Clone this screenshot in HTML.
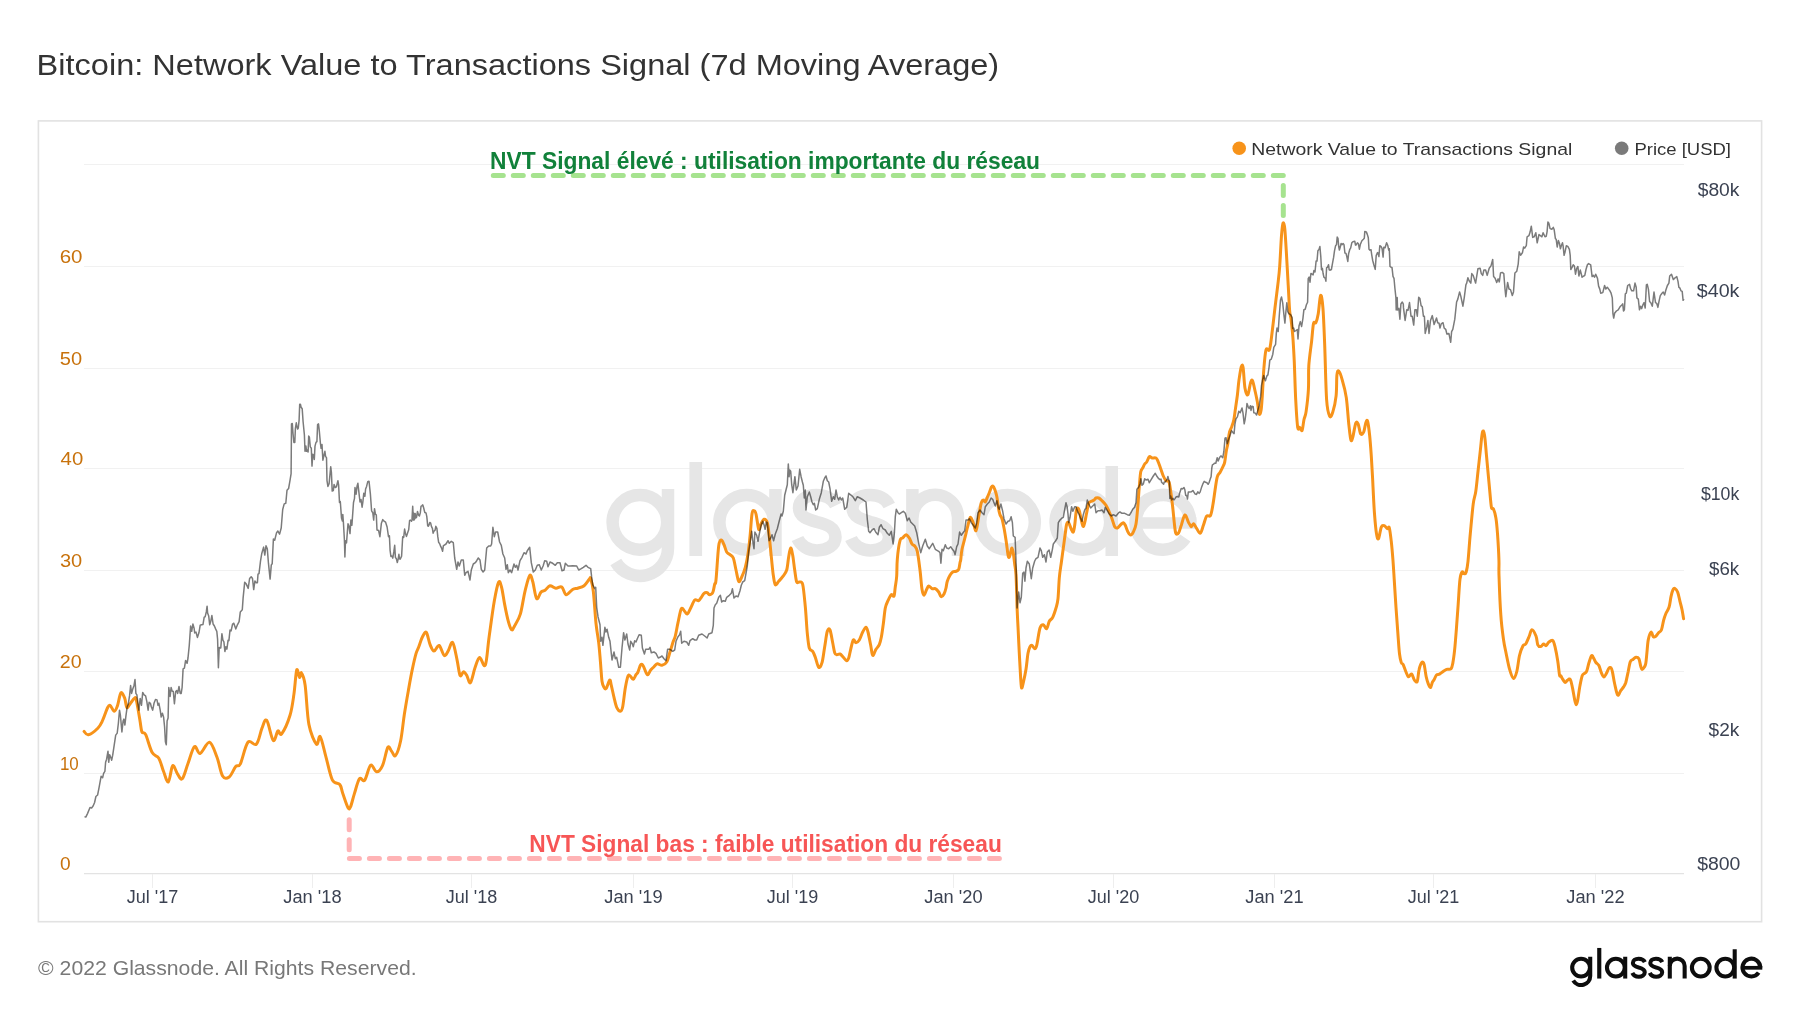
<!DOCTYPE html>
<html><head><meta charset="utf-8"><style>
html,body{margin:0;padding:0;background:#ffffff;width:1800px;height:1013px;overflow:hidden;position:relative}
svg text{font-family:"Liberation Sans",sans-serif}
</style></head><body>
<svg width="1800" height="1013" viewBox="0 0 1800 1013" style="position:absolute;left:0;top:0">
<text x="36.6" y="75" font-size="30" fill="#333333" textLength="962.6" lengthAdjust="spacingAndGlyphs">Bitcoin: Network Value to Transactions Signal (7d Moving Average)</text>
<rect x="38.4" y="120.9" width="1723.2" height="800.8" fill="#ffffff" stroke="#e2e2e2" stroke-width="1.6"/>
<line x1="84" x2="1684" y1="773.5" y2="773.5" stroke="#f1f1f1" stroke-width="1"/>
<line x1="84" x2="1684" y1="671.5" y2="671.5" stroke="#f1f1f1" stroke-width="1"/>
<line x1="84" x2="1684" y1="570.5" y2="570.5" stroke="#f1f1f1" stroke-width="1"/>
<line x1="84" x2="1684" y1="468.5" y2="468.5" stroke="#f1f1f1" stroke-width="1"/>
<line x1="84" x2="1684" y1="368.5" y2="368.5" stroke="#f1f1f1" stroke-width="1"/>
<line x1="84" x2="1684" y1="266.5" y2="266.5" stroke="#f1f1f1" stroke-width="1"/>
<line x1="84" x2="1684" y1="164.5" y2="164.5" stroke="#f1f1f1" stroke-width="1"/>
<g fill="none" stroke="#e6e6e6" stroke-width="12.5">
<circle cx="639.9" cy="522.35" r="27.3"/>
<path d="M668,489 L668,548 A28,28 0 0 1 615.8,562"/>
<path d="M695.75,462 L695.75,556" stroke-width="12.7"/>
<circle cx="746.7" cy="522.35" r="27.3"/>
<path d="M775.45,489 L775.45,556"/>
<path d="M835.8,505.5 C832.5,498.5 825,495 816.5,495 C806,495 799,500 799,508 C799,517 808,519.5 817,522 C827,524.5 835.5,527.5 835.5,537 C835.5,545.5 827,550.5 817,550.5 C808,550.5 800.5,545.5 797.5,538.5"/>
<path d="M835.8,505.5 C832.5,498.5 825,495 816.5,495 C806,495 799,500 799,508 C799,517 808,519.5 817,522 C827,524.5 835.5,527.5 835.5,537 C835.5,545.5 827,550.5 817,550.5 C808,550.5 800.5,545.5 797.5,538.5" transform="translate(53.5 0)"/>
<path d="M912.4,489 L912.4,556"/>
<path d="M912.4,517.6 A22.8,22.8 0 0 1 958,517.6 L958,556"/>
<circle cx="1007.55" cy="522.35" r="27.3"/>
<circle cx="1082.85" cy="522.35" r="27.3"/>
<path d="M1111.75,466 L1111.75,556"/>
<path d="M1190.25,522.35 A27.3,27.3 0 1 0 1185.31,538.01"/>
<path d="M1135.65,522.95 L1196.50,522.95" stroke-width="11.5"/>
</g>
<line x1="84" x2="1684" y1="873.6" y2="873.6" stroke="#e3e3e3" stroke-width="1.2"/>
<line x1="152.5" x2="152.5" y1="874" y2="888" stroke="#eeeeee" stroke-width="1"/>
<text x="152.5" y="903" font-size="17.5" fill="#3b4252" text-anchor="middle" textLength="51.5" lengthAdjust="spacingAndGlyphs">Jul '17</text>
<line x1="312.5" x2="312.5" y1="874" y2="888" stroke="#eeeeee" stroke-width="1"/>
<text x="312.5" y="903" font-size="17.5" fill="#3b4252" text-anchor="middle" textLength="58.3" lengthAdjust="spacingAndGlyphs">Jan '18</text>
<line x1="471.5" x2="471.5" y1="874" y2="888" stroke="#eeeeee" stroke-width="1"/>
<text x="471.5" y="903" font-size="17.5" fill="#3b4252" text-anchor="middle" textLength="51.5" lengthAdjust="spacingAndGlyphs">Jul '18</text>
<line x1="633.5" x2="633.5" y1="874" y2="888" stroke="#eeeeee" stroke-width="1"/>
<text x="633.5" y="903" font-size="17.5" fill="#3b4252" text-anchor="middle" textLength="58.3" lengthAdjust="spacingAndGlyphs">Jan '19</text>
<line x1="792.5" x2="792.5" y1="874" y2="888" stroke="#eeeeee" stroke-width="1"/>
<text x="792.5" y="903" font-size="17.5" fill="#3b4252" text-anchor="middle" textLength="51.5" lengthAdjust="spacingAndGlyphs">Jul '19</text>
<line x1="953.5" x2="953.5" y1="874" y2="888" stroke="#eeeeee" stroke-width="1"/>
<text x="953.5" y="903" font-size="17.5" fill="#3b4252" text-anchor="middle" textLength="58.3" lengthAdjust="spacingAndGlyphs">Jan '20</text>
<line x1="1113.5" x2="1113.5" y1="874" y2="888" stroke="#eeeeee" stroke-width="1"/>
<text x="1113.5" y="903" font-size="17.5" fill="#3b4252" text-anchor="middle" textLength="51.5" lengthAdjust="spacingAndGlyphs">Jul '20</text>
<line x1="1274.5" x2="1274.5" y1="874" y2="888" stroke="#eeeeee" stroke-width="1"/>
<text x="1274.5" y="903" font-size="17.5" fill="#3b4252" text-anchor="middle" textLength="58.3" lengthAdjust="spacingAndGlyphs">Jan '21</text>
<line x1="1433.5" x2="1433.5" y1="874" y2="888" stroke="#eeeeee" stroke-width="1"/>
<text x="1433.5" y="903" font-size="17.5" fill="#3b4252" text-anchor="middle" textLength="51.5" lengthAdjust="spacingAndGlyphs">Jul '21</text>
<line x1="1595.5" x2="1595.5" y1="874" y2="888" stroke="#eeeeee" stroke-width="1"/>
<text x="1595.5" y="903" font-size="17.5" fill="#3b4252" text-anchor="middle" textLength="58.3" lengthAdjust="spacingAndGlyphs">Jan '22</text>
<text x="59.91" y="870.1" font-size="18.4" fill="#c8720c" textLength="10.63" lengthAdjust="spacingAndGlyphs">0</text>
<text x="59.88" y="770.1" font-size="18.4" fill="#c8720c" textLength="18.85" lengthAdjust="spacingAndGlyphs">10</text>
<text x="59.88" y="668.1" font-size="18.4" fill="#c8720c" textLength="21.82" lengthAdjust="spacingAndGlyphs">20</text>
<text x="59.91" y="567.1" font-size="18.4" fill="#c8720c" textLength="22.3" lengthAdjust="spacingAndGlyphs">30</text>
<text x="60.6" y="465.1" font-size="18.4" fill="#c8720c" textLength="22.62" lengthAdjust="spacingAndGlyphs">40</text>
<text x="59.81" y="365.1" font-size="18.4" fill="#c8720c" textLength="22.3" lengthAdjust="spacingAndGlyphs">50</text>
<text x="59.68" y="263.1" font-size="18.4" fill="#c8720c" textLength="22.84" lengthAdjust="spacingAndGlyphs">60</text>
<text x="1697.7" y="195.5" font-size="18" fill="#3b4252" textLength="41.75" lengthAdjust="spacingAndGlyphs">$80k</text>
<text x="1696.8" y="297.0" font-size="18" fill="#3b4252" textLength="42.65" lengthAdjust="spacingAndGlyphs">$40k</text>
<text x="1700.9" y="500.0" font-size="18" fill="#3b4252" textLength="38.35" lengthAdjust="spacingAndGlyphs">$10k</text>
<text x="1709.1" y="574.8" font-size="18" fill="#3b4252" textLength="30.13" lengthAdjust="spacingAndGlyphs">$6k</text>
<text x="1708.6" y="735.7" font-size="18" fill="#3b4252" textLength="30.73" lengthAdjust="spacingAndGlyphs">$2k</text>
<text x="1697.2" y="869.9" font-size="18" fill="#3b4252" textLength="43.23" lengthAdjust="spacingAndGlyphs">$800</text>
<path d="M84.1,731.4 C84.8,732.0 86.1,735.2 88.4,734.7 C90.7,734.2 95.5,730.5 97.8,728.2 C100.1,725.9 100.9,724.0 102.5,720.7 C104.1,717.4 106.0,711.1 107.2,708.5 C108.5,705.9 108.8,704.8 110.0,705.3 C111.2,705.8 113.0,711.2 114.3,711.3 C115.5,711.4 116.4,708.8 117.5,705.7 C118.6,702.6 119.7,694.1 120.9,692.9 C122.1,691.6 123.7,695.8 124.7,698.2 C125.7,700.6 125.9,706.7 126.9,707.5 C127.9,708.3 129.4,704.4 130.7,702.9 C131.9,701.4 133.5,698.7 134.4,698.2 C135.3,697.7 135.4,696.2 136.3,700.0 C137.2,703.8 139.1,715.4 140.0,720.7 C140.9,726.0 141.0,729.6 141.9,731.9 C142.8,734.2 144.0,731.2 145.7,734.7 C147.4,738.2 150.0,748.7 152.2,752.6 C154.4,756.5 156.9,755.1 158.8,758.2 C160.7,761.3 161.9,767.3 163.5,771.3 C165.1,775.3 166.8,782.6 168.2,782.0 C169.6,781.4 171.0,770.2 171.9,767.6 C172.8,765.0 172.9,765.0 173.8,766.1 C174.8,767.2 176.2,772.0 177.6,774.1 C179.0,776.2 180.6,780.5 182.3,778.8 C184.0,777.1 185.9,769.2 187.9,763.8 C189.9,758.4 192.4,748.3 194.4,746.6 C196.4,744.9 197.6,754.2 200.1,753.5 C202.6,752.8 206.7,741.7 209.5,742.3 C212.3,742.9 214.8,751.7 217.0,757.3 C219.2,762.9 220.6,772.7 222.6,776.0 C224.6,779.3 227.0,778.6 229.2,777.0 C231.4,775.4 233.8,768.8 235.7,766.6 C237.6,764.4 238.4,767.8 240.4,763.8 C242.4,759.8 245.2,745.6 247.9,742.3 C250.6,739.0 254.0,746.5 256.4,744.1 C258.8,741.8 260.3,732.2 262.0,728.2 C263.7,724.2 264.8,718.3 266.7,720.3 C268.6,722.3 271.3,738.6 273.2,740.4 C275.1,742.2 276.5,732.1 277.9,731.0 C279.3,729.9 279.7,736.5 281.7,733.8 C283.7,731.1 288.1,721.6 290.1,715.0 C292.1,708.4 292.8,701.9 293.9,694.4 C295.0,686.9 295.8,672.8 296.7,670.0 C297.6,667.2 298.7,677.0 299.5,677.5 C300.3,678.0 300.5,671.5 301.4,672.8 C302.3,674.0 303.9,676.4 305.1,685.0 C306.4,693.6 307.0,714.5 308.9,724.4 C310.8,734.2 314.5,742.1 316.4,744.1 C318.3,746.1 318.6,734.6 320.2,736.6 C321.8,738.6 323.8,749.1 325.8,756.3 C327.8,763.5 330.0,775.1 332.3,779.8 C334.6,784.5 338.1,782.2 339.8,784.5 C341.6,786.8 341.4,789.7 342.8,793.6 C344.2,797.5 346.7,805.5 348.0,807.7 C349.3,809.9 349.4,809.2 350.5,806.9 C351.6,804.5 352.9,798.3 354.4,793.6 C355.9,788.9 357.8,780.9 359.5,778.7 C361.2,776.5 362.8,782.4 364.7,780.2 C366.6,778.0 368.6,766.7 370.6,765.3 C372.6,763.9 374.7,771.8 376.7,771.8 C378.7,771.8 380.8,769.4 382.6,765.3 C384.5,761.2 386.3,749.8 387.8,747.4 C389.3,745.0 390.3,749.8 391.6,751.2 C392.9,752.6 394.0,757.3 395.5,755.6 C397.0,753.9 399.1,747.9 400.6,741.0 C402.1,734.1 403.1,722.4 404.4,714.0 C405.7,705.6 407.0,698.2 408.3,690.9 C409.6,683.6 410.8,676.6 412.1,670.4 C413.4,664.2 414.9,657.6 416.0,653.7 C417.1,649.9 417.5,650.1 418.6,647.3 C419.7,644.5 421.1,639.5 422.4,637.0 C423.7,634.5 425.0,631.1 426.3,632.4 C427.6,633.7 428.8,641.6 430.1,644.7 C431.4,647.8 432.5,651.0 434.0,651.1 C435.5,651.2 437.4,644.8 439.1,645.5 C440.8,646.2 442.7,654.6 444.2,655.5 C445.7,656.4 446.7,653.2 448.1,651.1 C449.5,649.0 451.2,641.1 452.7,642.6 C454.2,644.1 455.9,654.6 457.1,660.1 C458.3,665.6 459.0,673.6 460.1,675.5 C461.2,677.4 462.4,671.7 463.5,671.7 C464.6,671.7 465.7,673.7 466.8,675.5 C467.9,677.3 469.0,684.0 470.4,682.7 C471.8,681.4 473.5,672.0 475.0,667.8 C476.5,663.6 477.9,657.9 479.6,657.5 C481.3,657.1 483.7,668.6 485.3,665.2 C486.9,661.8 487.6,647.7 489.1,637.0 C490.6,626.3 492.7,610.2 494.3,601.1 C495.9,592.0 497.4,584.6 498.6,582.3 C499.8,579.9 500.5,583.5 501.5,587.0 C502.5,590.5 503.4,597.8 504.5,603.6 C505.6,609.4 507.2,617.2 508.4,621.6 C509.6,626.0 510.6,629.1 511.7,629.8 C512.8,630.4 513.3,628.1 514.8,625.5 C516.2,622.9 518.7,619.7 520.4,613.9 C522.1,608.1 523.5,597.2 525.1,590.8 C526.7,584.4 528.4,576.9 529.7,575.4 C531.0,573.9 531.6,577.9 532.8,581.8 C533.9,585.6 535.2,596.8 536.6,598.5 C538.0,600.2 539.6,593.5 541.0,592.1 C542.4,590.7 543.6,591.4 545.1,590.3 C546.6,589.2 548.2,586.1 550.0,585.7 C551.8,585.4 553.9,588.0 555.9,588.2 C557.9,588.4 560.1,585.9 561.8,587.0 C563.5,588.1 564.3,594.3 566.1,594.7 C567.9,595.1 570.7,590.6 572.6,589.5 C574.5,588.4 575.8,588.8 577.7,588.2 C579.6,587.6 582.2,587.2 584.1,585.7 C586.0,584.2 588.1,580.5 589.2,579.3 C590.3,578.1 590.0,576.7 590.7,578.7 C591.4,580.7 592.4,583.9 593.3,591.3 C594.2,598.7 595.1,614.7 596.0,623.3 C596.9,631.9 597.9,635.7 598.7,642.7 C599.5,649.7 600.2,658.9 600.7,665.3 C601.2,671.7 601.5,677.6 602.0,681.3 C602.5,685.0 603.3,686.1 604.0,687.3 C604.7,688.5 605.3,689.5 606.3,688.3 C607.2,687.1 608.9,680.5 609.7,680.0 C610.5,679.5 610.6,682.4 611.3,685.3 C612.0,688.2 613.1,693.6 614.0,697.3 C614.9,701.0 615.6,705.0 616.7,707.3 C617.8,709.6 619.4,711.4 620.4,711.3 C621.4,711.2 621.9,710.6 622.7,706.7 C623.5,702.8 624.4,693.1 625.3,688.0 C626.2,682.9 627.2,678.0 628.0,676.0 C628.8,674.0 629.1,675.2 630.0,675.7 C630.9,676.2 632.3,679.5 633.3,679.3 C634.3,679.1 635.2,675.9 636.0,674.7 C636.8,673.5 637.2,673.7 638.0,672.0 C638.8,670.3 639.8,665.7 640.7,664.7 C641.6,663.7 642.2,664.3 643.3,666.0 C644.4,667.7 646.1,674.0 647.3,674.7 C648.5,675.4 649.6,671.3 650.7,670.0 C651.8,668.7 652.9,667.8 654.0,666.7 C655.1,665.7 656.0,663.9 657.3,663.7 C658.6,663.5 660.4,665.6 662.0,665.3 C663.6,665.0 665.4,664.2 666.7,662.0 C668.0,659.8 668.9,655.5 670.0,652.0 C671.1,648.5 672.4,644.0 673.3,641.3 C674.2,638.6 674.5,639.1 675.3,636.0 C676.1,632.9 677.0,627.2 678.0,622.7 C679.0,618.2 680.2,610.6 681.3,608.7 C682.4,606.8 683.7,610.4 684.7,611.3 C685.7,612.2 686.3,614.5 687.3,614.0 C688.3,613.5 689.5,610.3 690.7,608.0 C691.9,605.7 693.4,601.2 694.7,600.0 C696.0,598.8 697.6,601.2 698.7,600.7 C699.8,600.2 700.4,598.5 701.3,597.3 C702.2,596.1 703.0,594.1 704.0,593.3 C705.0,592.5 706.4,592.5 707.3,592.7 C708.2,592.9 708.4,594.7 709.3,594.7 C710.2,594.7 711.8,594.5 712.7,592.7 C713.6,590.9 714.2,586.1 714.7,584.0 C715.2,581.9 715.3,586.3 716.0,580.0 C716.7,573.7 717.8,552.7 718.7,546.0 C719.6,539.3 720.4,540.2 721.3,540.0 C722.2,539.8 723.1,542.7 724.0,544.7 C724.9,546.7 725.7,550.3 726.7,552.0 C727.7,553.7 728.9,553.7 730.0,554.7 C731.1,555.7 732.3,555.5 733.3,558.0 C734.3,560.5 735.1,566.1 736.0,570.0 C736.9,573.9 737.8,580.0 738.7,581.3 C739.6,582.6 740.2,580.3 741.3,578.0 C742.4,575.7 744.2,571.3 745.3,567.3 C746.4,563.3 747.2,559.1 748.0,554.0 C748.8,548.9 749.3,543.4 750.0,536.7 C750.7,530.0 751.3,518.3 752.0,514.0 C752.7,509.7 753.3,510.7 754.0,510.7 C754.7,510.7 755.2,510.9 756.0,514.0 C756.8,517.1 757.9,527.5 758.7,529.3 C759.5,531.1 759.8,526.4 760.7,524.7 C761.6,523.0 762.9,519.6 764.0,519.3 C765.1,519.0 766.4,519.8 767.3,522.7 C768.2,525.6 768.6,531.0 769.3,536.7 C770.0,542.4 770.6,550.3 771.3,556.7 C772.0,563.1 772.6,570.6 773.3,575.3 C774.0,580.0 774.4,583.7 775.3,584.7 C776.2,585.7 777.5,582.6 778.7,581.3 C779.9,580.0 781.4,578.6 782.7,576.7 C784.0,574.8 785.7,573.3 786.7,570.0 C787.7,566.7 788.0,560.4 788.7,556.7 C789.4,553.0 790.0,548.2 790.7,548.0 C791.4,547.8 792.0,551.6 792.7,555.3 C793.4,559.0 794.0,565.5 794.7,570.0 C795.4,574.5 795.9,580.0 796.7,582.0 C797.5,584.0 798.3,581.6 799.3,582.0 C800.3,582.4 801.7,580.4 802.7,584.5 C803.7,588.6 804.5,598.6 805.3,606.7 C806.1,614.8 806.6,626.4 807.3,633.3 C808.0,640.2 808.4,645.0 809.3,648.0 C810.2,651.0 811.7,649.8 812.7,651.3 C813.7,652.8 814.3,654.6 815.3,657.3 C816.3,660.0 817.6,666.4 818.7,667.3 C819.8,668.2 821.0,666.1 822.0,662.7 C823.0,659.3 823.8,651.9 824.7,646.7 C825.6,641.5 826.4,634.1 827.3,631.3 C828.2,628.5 829.1,628.1 830.0,630.0 C830.9,631.9 831.9,638.9 832.7,642.7 C833.5,646.5 834.0,650.7 834.7,652.7 C835.4,654.7 835.8,654.5 836.7,654.7 C837.6,654.9 838.9,653.6 840.0,654.0 C841.1,654.4 842.2,656.2 843.3,657.3 C844.4,658.4 845.8,660.6 846.7,660.7 C847.6,660.8 848.0,659.9 848.7,658.0 C849.4,656.1 849.9,652.3 850.7,649.3 C851.5,646.3 852.4,641.1 853.3,640.0 C854.2,638.9 855.0,642.7 856.0,642.7 C857.0,642.7 858.2,641.8 859.3,640.0 C860.4,638.2 861.6,634.1 862.7,632.0 C863.8,629.9 865.1,627.3 866.0,627.3 C866.9,627.3 867.2,629.0 868.0,632.0 C868.8,635.0 869.9,641.4 870.7,645.3 C871.5,649.2 871.8,654.6 872.7,655.3 C873.6,656.0 874.9,651.1 876.0,649.3 C877.1,647.5 878.4,646.7 879.3,644.7 C880.2,642.7 880.6,640.8 881.3,637.3 C882.0,633.8 882.6,628.9 883.3,624.0 C884.0,619.1 884.5,611.9 885.3,608.0 C886.1,604.1 887.0,602.9 888.0,600.7 C889.0,598.5 890.3,595.5 891.3,594.7 C892.3,593.9 893.3,597.3 894.0,596.0 C894.7,594.7 894.8,590.0 895.3,586.7 C895.8,583.4 896.4,580.6 896.7,576.0 C897.0,571.4 896.8,565.2 897.3,559.3 C897.8,553.4 899.1,544.2 900.0,540.7 C900.9,537.2 901.7,539.0 902.7,538.0 C903.7,537.0 904.9,534.7 906.0,534.7 C907.1,534.7 908.3,536.5 909.3,538.0 C910.3,539.5 911.1,542.7 912.0,544.0 C912.9,545.3 913.8,544.8 914.7,546.0 C915.6,547.2 916.4,547.3 917.3,551.3 C918.2,555.3 919.2,563.7 920.0,570.0 C920.8,576.3 921.3,585.1 922.0,589.3 C922.7,593.5 923.2,595.3 924.0,595.3 C924.8,595.3 925.9,590.8 926.7,589.3 C927.5,587.8 927.8,586.1 928.7,586.0 C929.6,585.9 930.9,588.2 932.0,588.7 C933.1,589.2 934.2,588.2 935.3,588.7 C936.4,589.2 937.7,590.7 938.7,592.0 C939.7,593.3 940.2,596.4 941.1,596.7 C942.0,597.0 943.2,595.5 944.0,594.0 C944.8,592.5 945.5,590.1 946.0,588.0 C946.5,585.9 946.6,583.4 947.3,581.3 C948.0,579.2 949.1,576.8 950.0,575.3 C950.9,573.8 951.7,572.7 952.7,572.0 C953.7,571.3 955.0,571.8 956.0,571.3 C957.0,570.8 958.0,570.7 958.7,569.3 C959.4,567.9 959.7,564.2 960.0,562.7 C960.3,561.2 960.4,562.2 960.7,560.0 C961.0,557.8 961.3,552.8 962.0,549.3 C962.7,545.8 963.8,542.2 964.7,538.7 C965.6,535.2 966.5,531.1 967.3,528.0 C968.1,524.9 968.7,521.8 969.3,520.0 C969.9,518.2 970.1,517.1 970.7,517.3 C971.3,517.5 972.0,519.5 972.7,521.3 C973.4,523.1 974.2,526.4 974.7,528.0 C975.2,529.6 975.6,531.2 976.0,530.7 C976.4,530.2 976.8,528.2 977.3,525.3 C977.8,522.4 978.6,517.1 979.3,513.3 C980.0,509.5 980.6,504.9 981.3,502.7 C982.0,500.5 982.6,500.1 983.3,500.0 C984.0,499.9 984.6,502.4 985.3,502.0 C986.0,501.6 986.6,498.9 987.3,497.3 C988.0,495.8 988.6,494.4 989.3,492.7 C990.0,491.0 990.7,488.4 991.3,487.3 C991.9,486.2 992.3,485.7 992.9,486.0 C993.5,486.3 994.1,487.6 994.7,489.3 C995.3,491.0 996.0,492.7 996.7,496.0 C997.4,499.3 998.2,506.2 998.7,509.3 C999.2,512.4 999.5,513.1 1000.0,514.7 C1000.5,516.3 1001.3,516.5 1002.0,518.7 C1002.7,520.9 1003.3,524.5 1004.0,528.0 C1004.7,531.5 1005.3,535.5 1006.0,540.0 C1006.7,544.5 1007.5,551.8 1008.0,554.7 C1008.5,557.6 1008.8,557.8 1009.3,557.3 C1009.8,556.8 1010.2,553.5 1010.7,552.0 C1011.2,550.5 1011.6,547.8 1012.0,548.0 C1012.4,548.2 1012.8,550.6 1013.3,553.3 C1013.8,556.0 1014.2,560.4 1014.7,564.0 C1015.2,567.6 1015.7,569.8 1016.0,574.7 C1016.3,579.6 1016.5,587.8 1016.7,593.3 C1016.9,598.8 1016.9,602.4 1017.1,608.0 C1017.3,613.6 1017.6,619.2 1018.0,626.7 C1018.4,634.2 1018.8,644.6 1019.3,653.3 C1019.8,662.0 1020.3,672.9 1020.7,678.7 C1021.1,684.5 1021.2,687.3 1021.6,688.0 C1022.0,688.7 1022.6,685.8 1023.3,682.7 C1024.0,679.6 1025.2,674.2 1026.0,669.3 C1026.8,664.4 1027.3,657.1 1028.0,653.3 C1028.7,649.5 1029.3,648.0 1030.0,646.7 C1030.7,645.4 1031.2,645.0 1032.0,645.3 C1032.8,645.6 1033.9,648.7 1034.7,648.7 C1035.5,648.7 1035.8,648.8 1036.7,645.3 C1037.6,641.8 1038.9,631.4 1040.0,628.0 C1041.1,624.6 1042.2,624.6 1043.3,624.7 C1044.4,624.8 1045.7,629.3 1046.7,628.7 C1047.7,628.1 1048.3,623.2 1049.3,621.3 C1050.3,619.4 1051.6,619.5 1052.7,617.3 C1053.8,615.1 1055.1,611.1 1056.0,608.0 C1056.9,604.9 1057.5,603.7 1058.0,598.7 C1058.5,593.7 1058.8,584.0 1059.3,578.0 C1059.8,572.0 1060.6,567.7 1061.3,562.7 C1062.0,557.7 1062.6,552.9 1063.3,548.0 C1064.0,543.1 1064.7,537.3 1065.3,533.3 C1065.9,529.3 1066.1,525.8 1066.7,524.0 C1067.3,522.2 1067.9,521.8 1068.7,522.7 C1069.5,523.6 1070.5,527.8 1071.3,529.3 C1072.1,530.8 1072.7,532.7 1073.3,532.0 C1073.9,531.3 1074.2,528.5 1074.7,525.3 C1075.2,522.1 1075.6,515.6 1076.0,512.7 C1076.4,509.8 1076.8,508.3 1077.3,508.0 C1077.8,507.7 1078.6,508.7 1079.3,510.7 C1080.0,512.7 1080.7,517.4 1081.3,520.0 C1081.9,522.6 1082.5,525.9 1083.1,526.4 C1083.7,526.9 1084.1,525.0 1084.7,522.7 C1085.3,520.4 1086.0,515.9 1086.7,512.7 C1087.4,509.5 1087.9,505.2 1088.7,503.3 C1089.5,501.4 1090.4,501.9 1091.3,501.3 C1092.2,500.8 1093.2,500.6 1094.0,500.0 C1094.8,499.4 1095.2,498.3 1096.0,498.0 C1096.8,497.7 1097.7,497.6 1098.7,498.0 C1099.7,498.4 1100.8,499.5 1102.0,500.7 C1103.2,501.9 1104.8,503.4 1106.0,505.3 C1107.2,507.2 1108.3,509.8 1109.3,512.0 C1110.3,514.2 1111.1,516.2 1112.0,518.7 C1112.9,521.2 1113.8,525.2 1114.7,526.7 C1115.6,528.2 1116.3,528.3 1117.3,528.0 C1118.3,527.7 1119.7,525.6 1120.7,524.7 C1121.7,523.8 1122.5,522.6 1123.3,522.7 C1124.1,522.8 1124.5,523.8 1125.3,525.3 C1126.1,526.8 1127.1,530.4 1128.0,532.0 C1128.9,533.6 1129.8,535.0 1130.7,535.0 C1131.6,535.0 1132.4,533.8 1133.3,532.0 C1134.2,530.2 1135.2,528.7 1136.0,524.0 C1136.8,519.3 1137.5,510.2 1138.0,504.0 C1138.5,497.8 1138.8,492.0 1139.3,486.7 C1139.8,481.4 1140.1,475.1 1140.7,472.0 C1141.3,468.9 1142.0,469.3 1142.7,468.0 C1143.4,466.7 1144.0,465.0 1144.7,464.0 C1145.4,463.0 1145.9,463.2 1146.7,462.0 C1147.5,460.8 1148.4,457.4 1149.3,456.7 C1150.2,456.0 1150.9,457.8 1152.0,458.0 C1153.1,458.2 1155.0,457.4 1156.0,458.0 C1157.0,458.6 1157.2,459.5 1158.0,461.3 C1158.8,463.1 1159.8,466.2 1160.7,468.7 C1161.6,471.1 1162.4,474.0 1163.3,476.0 C1164.2,478.0 1165.1,479.8 1166.0,480.7 C1166.9,481.6 1168.0,480.3 1168.7,481.3 C1169.4,482.3 1169.3,482.5 1170.0,486.7 C1170.7,490.9 1171.9,500.4 1172.6,506.3 C1173.3,512.2 1173.7,517.6 1174.2,522.1 C1174.7,526.6 1175.1,531.4 1175.8,533.2 C1176.5,535.0 1177.7,534.1 1178.6,532.8 C1179.5,531.5 1180.2,528.3 1181.3,525.3 C1182.3,522.3 1183.7,515.5 1184.9,515.0 C1186.1,514.5 1187.3,520.1 1188.4,522.1 C1189.5,524.1 1190.5,526.5 1191.3,526.8 C1192.1,527.1 1192.6,523.4 1193.5,523.7 C1194.4,524.0 1195.5,526.8 1196.6,528.4 C1197.7,530.0 1199.2,533.7 1200.3,533.2 C1201.4,532.7 1202.4,528.1 1203.4,525.3 C1204.5,522.4 1205.4,517.7 1206.6,516.1 C1207.8,514.5 1209.5,517.4 1210.5,515.5 C1211.5,513.6 1212.2,508.9 1212.9,504.7 C1213.7,500.5 1214.3,495.1 1215.0,490.5 C1215.7,485.9 1216.4,480.1 1217.2,477.1 C1218.0,474.1 1219.0,474.2 1220.0,472.4 C1221.0,470.6 1222.4,467.8 1223.2,466.1 C1224.0,464.4 1224.2,464.6 1224.7,462.1 C1225.2,459.6 1225.8,454.2 1226.3,451.1 C1226.8,448.0 1227.4,446.4 1227.9,443.2 C1228.4,440.0 1228.8,434.9 1229.5,432.1 C1230.2,429.3 1231.1,428.7 1231.8,426.6 C1232.5,424.5 1233.3,422.5 1233.9,419.5 C1234.5,416.5 1234.9,412.5 1235.5,408.4 C1236.1,404.3 1236.8,399.7 1237.4,395.0 C1238.0,390.3 1238.3,384.7 1239.0,380.0 C1239.7,375.3 1240.6,368.8 1241.3,366.7 C1242.0,364.6 1242.5,364.0 1243.1,367.6 C1243.7,371.2 1244.2,383.7 1245.0,388.2 C1245.8,392.7 1246.9,395.7 1247.8,394.8 C1248.7,393.9 1249.8,385.0 1250.6,382.6 C1251.4,380.2 1251.7,379.1 1252.5,380.7 C1253.3,382.3 1254.5,388.6 1255.3,392.0 C1256.1,395.4 1256.5,397.4 1257.2,401.0 C1257.9,404.6 1258.6,412.4 1259.2,413.9 C1259.8,415.4 1260.6,413.0 1261.1,410.0 C1261.6,407.0 1261.8,402.6 1262.3,395.8 C1262.8,389.1 1263.2,377.2 1263.8,369.5 C1264.4,361.8 1265.1,353.1 1266.0,349.8 C1266.9,346.5 1268.5,352.2 1269.4,349.8 C1270.4,347.4 1270.8,342.7 1271.7,335.7 C1272.6,328.7 1274.0,316.1 1275.0,307.6 C1276.0,299.2 1277.0,291.9 1277.8,285.0 C1278.6,278.1 1279.1,274.7 1279.7,266.3 C1280.3,257.9 1281.0,241.6 1281.6,234.4 C1282.2,227.2 1282.6,224.0 1283.1,223.1 C1283.6,222.2 1284.3,224.1 1284.8,228.8 C1285.3,233.5 1285.7,241.9 1286.3,251.3 C1286.9,260.7 1287.6,275.0 1288.2,285.0 C1288.8,295.0 1289.2,305.7 1289.7,311.3 C1290.2,316.9 1290.5,314.4 1291.0,318.8 C1291.5,323.2 1292.4,330.7 1292.9,337.6 C1293.4,344.5 1293.7,349.8 1294.2,360.1 C1294.7,370.4 1295.1,388.3 1295.7,399.5 C1296.3,410.7 1297.0,422.8 1297.7,427.4 C1298.4,432.0 1299.0,426.9 1299.7,427.4 C1300.4,427.9 1301.4,431.8 1302.1,430.5 C1302.8,429.2 1303.3,422.6 1304.0,419.5 C1304.7,416.4 1305.4,416.6 1306.1,411.6 C1306.8,406.6 1308.0,397.1 1308.4,389.5 C1308.9,381.9 1308.3,373.7 1308.8,365.7 C1309.3,357.7 1310.8,348.3 1311.6,341.3 C1312.4,334.3 1312.8,326.6 1313.5,323.5 C1314.2,320.4 1315.1,324.2 1315.9,322.6 C1316.7,321.0 1317.4,318.6 1318.2,314.1 C1319.0,309.6 1319.8,296.5 1320.6,295.4 C1321.4,294.3 1322.2,299.3 1322.9,307.6 C1323.6,315.9 1324.1,329.8 1324.7,345.1 C1325.3,360.4 1325.8,387.6 1326.6,399.5 C1327.4,411.4 1328.7,414.3 1329.7,416.3 C1330.8,418.3 1331.8,415.0 1332.9,411.6 C1334.0,408.2 1335.4,401.9 1336.1,395.8 C1336.8,389.7 1336.5,379.2 1336.9,375.1 C1337.4,371.0 1337.9,370.2 1338.8,371.0 C1339.7,371.8 1341.0,375.4 1342.2,379.8 C1343.5,384.2 1345.2,390.1 1346.3,397.6 C1347.4,405.2 1348.1,418.1 1348.9,425.1 C1349.7,432.2 1350.2,437.9 1350.9,439.9 C1351.6,441.9 1352.0,439.8 1352.8,437.0 C1353.6,434.2 1354.9,425.3 1355.8,423.2 C1356.7,421.1 1357.4,422.3 1358.2,424.1 C1359.0,425.9 1359.8,432.7 1360.7,434.0 C1361.6,435.3 1362.9,433.8 1363.7,432.0 C1364.5,430.2 1365.1,425.0 1365.7,423.2 C1366.3,421.4 1366.9,419.2 1367.6,421.2 C1368.2,423.2 1369.0,429.4 1369.6,435.0 C1370.2,440.6 1370.7,447.5 1371.2,454.7 C1371.7,461.9 1372.0,468.5 1372.6,478.4 C1373.1,488.3 1373.8,504.7 1374.5,513.9 C1375.2,523.1 1375.8,529.6 1376.5,533.7 C1377.2,537.8 1377.7,539.8 1378.5,538.6 C1379.3,537.5 1380.4,528.9 1381.4,526.8 C1382.4,524.7 1383.4,525.5 1384.4,525.8 C1385.4,526.1 1386.6,528.4 1387.4,528.7 C1388.2,529.0 1388.7,525.6 1389.3,527.8 C1389.9,529.9 1390.7,536.4 1391.3,541.6 C1391.9,546.9 1392.4,553.0 1392.9,559.3 C1393.4,565.5 1393.7,571.1 1394.2,579.1 C1394.7,587.1 1395.4,598.6 1396.0,607.5 C1396.6,616.4 1397.2,624.7 1397.8,632.4 C1398.4,640.1 1398.9,648.7 1399.5,653.7 C1400.1,658.7 1400.7,660.8 1401.3,662.6 C1401.9,664.4 1402.3,662.9 1403.1,664.4 C1403.8,665.9 1404.9,669.4 1405.8,671.5 C1406.7,673.6 1407.5,676.4 1408.4,676.8 C1409.3,677.2 1410.4,674.4 1411.1,674.1 C1411.8,673.8 1411.7,674.0 1412.3,675.0 C1412.9,676.0 1413.8,679.4 1414.6,680.4 C1415.4,681.4 1416.5,683.1 1417.3,681.3 C1418.0,679.5 1418.3,672.8 1419.1,669.7 C1419.8,666.6 1421.0,663.5 1421.8,662.6 C1422.6,661.7 1423.4,662.0 1424.1,664.4 C1424.8,666.8 1425.5,673.5 1426.2,676.8 C1426.9,680.0 1427.6,682.1 1428.3,683.9 C1429.0,685.7 1429.9,687.8 1430.6,687.5 C1431.3,687.2 1431.8,683.4 1432.4,682.1 C1433.0,680.8 1433.5,680.7 1434.2,679.5 C1434.9,678.3 1435.6,675.9 1436.5,675.0 C1437.4,674.1 1438.4,674.7 1439.5,674.1 C1440.6,673.5 1441.9,672.3 1443.1,671.5 C1444.3,670.7 1445.3,669.9 1446.6,669.4 C1447.9,668.9 1450.0,669.9 1451.1,668.8 C1452.1,667.7 1452.3,665.7 1452.9,662.6 C1453.5,659.5 1454.0,655.8 1454.6,650.2 C1455.2,644.6 1455.8,636.5 1456.4,628.8 C1457.0,621.1 1457.6,612.3 1458.2,604.0 C1458.8,595.7 1459.3,584.4 1460.0,579.1 C1460.7,573.8 1461.4,572.9 1462.1,572.0 C1462.8,571.1 1463.7,573.8 1464.4,573.8 C1465.1,573.8 1465.6,574.1 1466.2,572.0 C1466.8,569.9 1467.3,567.7 1468.0,561.3 C1468.7,554.9 1469.4,543.2 1470.3,533.7 C1471.2,524.2 1472.3,511.2 1473.2,504.1 C1474.1,497.0 1475.0,496.8 1475.8,491.2 C1476.6,485.6 1477.3,477.6 1478.1,470.5 C1478.9,463.4 1479.8,455.2 1480.5,448.8 C1481.2,442.4 1481.8,434.3 1482.5,432.0 C1483.2,429.7 1483.8,431.2 1484.5,435.0 C1485.2,438.8 1485.8,447.8 1486.4,454.7 C1487.1,461.6 1487.7,469.2 1488.4,476.4 C1489.1,483.6 1489.9,492.8 1490.4,498.1 C1490.9,503.4 1491.1,506.2 1491.6,508.0 C1492.1,509.8 1492.8,507.4 1493.5,509.0 C1494.2,510.6 1495.2,513.8 1495.9,517.9 C1496.6,522.0 1497.0,526.8 1497.5,533.7 C1498.0,540.6 1498.7,552.3 1498.9,559.3 C1499.2,566.3 1498.7,566.3 1499.0,575.5 C1499.3,584.7 1500.0,603.9 1500.8,614.6 C1501.5,625.3 1502.6,633.0 1503.5,639.5 C1504.4,646.0 1505.2,648.7 1506.2,653.7 C1507.2,658.7 1508.5,665.6 1509.7,669.7 C1510.9,673.9 1512.4,678.3 1513.6,678.6 C1514.8,678.9 1515.8,675.4 1516.8,671.5 C1517.8,667.6 1518.5,659.8 1519.5,655.5 C1520.5,651.2 1522.0,647.6 1523.0,645.7 C1524.0,643.8 1524.7,645.6 1525.7,644.0 C1526.8,642.4 1528.3,638.4 1529.3,636.0 C1530.3,633.6 1530.8,629.7 1531.9,629.7 C1533.0,629.7 1535.0,633.5 1536.0,636.0 C1537.0,638.5 1537.0,643.0 1537.8,644.8 C1538.6,646.6 1539.8,646.7 1540.8,646.6 C1541.8,646.5 1542.6,644.1 1543.5,644.0 C1544.4,643.9 1545.2,646.0 1546.1,645.7 C1547.0,645.4 1547.7,643.1 1548.8,642.2 C1549.9,641.3 1551.7,639.7 1552.7,640.4 C1553.7,641.1 1554.2,643.2 1555.0,646.6 C1555.8,650.0 1557.0,656.1 1557.7,660.8 C1558.5,665.5 1559.0,672.5 1559.5,675.0 C1560.0,677.5 1560.1,675.0 1560.7,675.8 C1561.3,676.5 1562.2,678.4 1562.9,679.5 C1563.7,680.6 1564.5,682.4 1565.2,682.5 C1566.0,682.6 1566.6,680.8 1567.4,680.3 C1568.2,679.8 1569.4,678.1 1570.3,679.5 C1571.2,680.9 1571.8,684.9 1572.6,688.4 C1573.3,691.9 1574.2,697.6 1574.8,700.3 C1575.4,703.0 1575.8,704.7 1576.3,704.7 C1576.8,704.7 1577.1,703.5 1577.7,700.3 C1578.3,697.1 1579.2,689.6 1580.0,685.5 C1580.8,681.4 1581.5,677.8 1582.2,675.8 C1582.9,673.8 1583.4,674.3 1584.1,673.6 C1584.8,672.9 1585.8,673.1 1586.6,671.4 C1587.4,669.7 1588.0,665.9 1588.8,663.3 C1589.6,660.7 1590.7,656.7 1591.5,655.8 C1592.3,654.9 1592.9,657.0 1593.6,658.1 C1594.3,659.2 1595.0,661.3 1595.9,662.5 C1596.8,663.7 1598.0,663.8 1598.9,665.5 C1599.8,667.2 1600.6,671.0 1601.4,672.9 C1602.2,674.8 1603.1,676.8 1603.9,676.9 C1604.7,677.0 1605.5,675.0 1606.3,673.6 C1607.1,672.2 1608.0,669.4 1608.8,668.4 C1609.6,667.4 1610.4,667.1 1611.0,667.7 C1611.6,668.3 1611.9,669.4 1612.5,672.1 C1613.1,674.8 1613.8,680.2 1614.7,684.0 C1615.6,687.8 1616.7,694.0 1617.7,695.1 C1618.7,696.2 1619.7,692.0 1620.7,690.6 C1621.7,689.2 1622.8,688.2 1623.6,686.9 C1624.4,685.5 1625.0,685.0 1625.8,682.5 C1626.5,680.0 1627.3,675.6 1628.1,672.1 C1628.8,668.6 1629.5,663.9 1630.3,661.8 C1631.1,659.7 1632.1,660.2 1633.0,659.5 C1633.9,658.8 1634.9,657.4 1635.9,657.3 C1636.9,657.2 1638.1,657.3 1638.9,658.8 C1639.7,660.3 1640.2,664.4 1640.7,666.2 C1641.2,668.0 1641.5,669.4 1642.1,669.5 C1642.7,669.6 1643.8,668.0 1644.4,667.0 C1645.0,666.0 1645.4,665.6 1645.8,663.3 C1646.2,660.9 1646.5,656.8 1646.9,652.9 C1647.3,649.0 1647.6,643.0 1648.3,639.6 C1649.0,636.2 1650.2,632.7 1651.0,632.2 C1651.8,631.7 1652.5,635.9 1653.2,636.6 C1654.0,637.3 1654.6,637.2 1655.5,636.6 C1656.4,636.0 1657.4,634.0 1658.4,632.9 C1659.4,631.8 1660.5,632.1 1661.4,630.0 C1662.3,627.9 1662.9,623.0 1663.6,620.3 C1664.3,617.6 1664.9,615.9 1665.8,613.7 C1666.7,611.5 1668.2,609.9 1669.1,607.0 C1670.0,604.1 1670.4,599.4 1671.0,596.6 C1671.6,593.8 1672.2,591.4 1672.9,590.0 C1673.6,588.6 1674.2,588.1 1675.0,588.5 C1675.8,588.9 1676.9,590.1 1677.7,592.2 C1678.5,594.3 1679.2,598.1 1679.9,601.1 C1680.6,604.1 1681.5,607.0 1682.1,610.0 C1682.7,613.0 1683.3,617.3 1683.6,618.8" fill="none" stroke="#f7931a" stroke-width="3" stroke-linejoin="round" stroke-linecap="round"/>
<path d="M84.5,816.6 L85.8,817.1 L87.5,813.6 L90.0,807.5 L91.6,808.0 L93.1,806.0 L94.6,802.5 L95.9,796.5 L97.6,795.0 L99.1,787.4 L101.1,776.3 L102.6,777.8 L103.6,773.3 L104.9,771.3 L105.6,762.3 L106.6,759.2 L108.0,751.2 L108.7,762.3 L109.7,754.7 L110.7,757.2 L111.7,760.2 L112.7,755.2 L114.2,745.2 L115.7,735.1 L117.2,733.1 L118.4,723.0 L119.5,710.2 L120.4,715.2 L121.9,731.9 L123.1,721.1 L123.9,719.1 L124.9,725.0 L125.9,716.1 L127.1,707.3 L128.3,703.8 L129.6,695.4 L130.6,685.5 L131.6,693.4 L132.6,689.5 L134.0,685.5 L135.0,679.6 L135.9,693.4 L136.9,694.9 L137.9,703.3 L138.9,710.2 L140.2,698.4 L141.5,705.3 L142.7,692.4 L144.1,694.9 L145.6,695.9 L146.8,701.3 L148.1,710.2 L149.1,702.3 L150.4,703.3 L151.3,706.8 L152.7,710.2 L154.0,703.3 L155.5,699.4 L157.0,699.9 L158.0,705.3 L158.9,703.3 L160.2,710.2 L161.2,717.1 L162.4,713.2 L163.6,717.1 L164.6,727.0 L165.4,741.8 L166.3,744.8 L167.1,721.1 L168.1,718.1 L168.8,687.5 L170.1,696.4 L171.1,687.5 L172.1,691.0 L173.3,691.5 L174.4,703.8 L175.7,691.5 L176.7,690.5 L177.7,693.4 L179.0,686.5 L180.2,693.4 L181.2,693.4 L182.1,687.5 L183.1,668.8 L184.4,668.1 L185.6,660.4 L187.1,663.3 L188.0,658.0 L189.3,645.1 L190.6,626.0 L191.7,631.3 L192.9,624.0 L194.1,628.1 L194.7,632.9 L196.0,632.1 L197.4,637.4 L199.0,632.5 L200.2,625.2 L201.4,624.8 L203.0,624.4 L204.2,617.1 L205.2,616.7 L206.3,611.9 L207.1,606.2 L207.6,613.1 L208.7,615.9 L209.7,624.8 L210.7,621.6 L211.9,615.5 L213.1,624.0 L214.4,626.0 L215.6,628.9 L216.8,631.3 L217.6,639.4 L218.4,667.7 L219.2,647.5 L220.8,647.9 L221.9,633.7 L222.9,640.2 L223.9,641.8 L224.9,651.5 L225.9,646.7 L226.9,649.1 L228.1,640.2 L228.9,640.6 L230.0,630.1 L231.1,630.9 L232.6,624.0 L233.8,623.2 L235.8,628.9 L237.4,624.8 L239.1,621.6 L240.3,611.9 L242.3,609.8 L243.1,598.1 L244.7,582.2 L246.3,584.1 L248.2,588.4 L249.6,578.5 L251.2,576.7 L252.5,578.5 L253.7,589.6 L254.9,581.0 L256.2,582.8 L257.4,582.8 L258.0,574.2 L259.0,573.6 L260.5,561.2 L261.7,553.8 L263.6,547.1 L264.8,555.1 L266.0,545.8 L267.3,548.9 L268.5,563.7 L270.1,579.1 L271.3,564.9 L272.2,563.7 L273.4,539.0 L274.7,540.3 L276.5,532.9 L277.8,531.0 L279.6,534.1 L281.2,528.0 L282.7,509.5 L284.2,503.9 L285.8,503.3 L287.0,490.3 L288.6,488.5 L290.1,479.9 L291.1,473.7 L291.5,423.9 L292.3,423.5 L293.0,433.5 L293.9,442.4 L294.8,442.4 L295.4,428.3 L296.3,422.8 L297.0,426.9 L297.6,429.1 L298.3,428.0 L299.1,420.2 L299.7,404.3 L300.4,404.3 L301.1,407.2 L302.2,408.7 L303.1,421.7 L304.4,435.0 L305.0,451.3 L305.9,446.1 L306.6,451.3 L307.6,449.8 L308.1,452.0 L308.7,436.1 L309.4,437.2 L310.3,446.9 L311.3,448.3 L312.0,466.1 L312.8,454.3 L313.7,455.0 L314.3,459.4 L315.0,446.1 L316.0,442.4 L316.9,441.7 L317.6,424.6 L318.5,423.9 L319.2,429.8 L320.4,443.1 L321.1,448.3 L322.0,444.6 L322.9,460.2 L323.9,455.7 L324.9,451.3 L325.6,456.5 L326.5,457.6 L327.0,480.7 L327.9,486.4 L329.1,483.8 L330.7,466.7 L331.4,472.4 L332.2,491.1 L333.3,490.6 L334.1,484.4 L335.3,487.5 L336.4,486.9 L337.9,480.7 L338.6,484.9 L339.5,502.5 L340.3,501.5 L341.5,518.0 L342.4,521.1 L342.8,514.4 L343.4,522.2 L344.4,539.8 L344.9,556.9 L345.5,540.8 L346.5,542.9 L348.0,523.7 L349.0,526.3 L350.0,533.6 L350.9,520.1 L351.9,525.3 L353.5,502.5 L354.5,498.3 L355.0,487.5 L356.1,494.2 L357.1,485.9 L357.9,483.3 L359.0,493.2 L360.0,502.0 L361.0,499.4 L362.1,507.2 L362.8,502.5 L363.8,493.2 L364.9,496.3 L365.6,489.0 L366.6,486.4 L367.7,481.8 L369.0,481.2 L370.4,494.2 L371.6,510.8 L372.8,512.8 L373.7,520.1 L374.5,508.7 L375.5,514.4 L376.3,514.9 L377.0,530.0 L378.6,530.5 L379.9,536.7 L381.4,523.2 L382.8,519.6 L384.0,521.1 L385.6,522.2 L387.1,527.0 L388.5,536.7 L389.4,535.7 L390.1,550.5 L390.9,556.4 L391.9,556.1 L392.8,558.1 L393.8,551.9 L394.7,545.3 L395.4,557.4 L396.4,558.8 L397.3,562.6 L398.2,558.8 L398.9,554.3 L399.5,558.8 L400.2,559.2 L401.6,556.1 L402.7,536.7 L403.7,537.4 L404.6,529.1 L405.4,533.2 L406.5,536.4 L407.8,532.2 L408.7,529.8 L409.6,520.5 L410.6,520.1 L411.5,521.2 L412.0,519.4 L412.7,506.3 L413.4,520.1 L413.9,513.2 L414.4,519.8 L415.2,513.5 L415.8,518.0 L416.5,517.4 L417.5,511.5 L418.6,515.3 L419.4,516.0 L420.3,512.9 L421.0,506.3 L422.0,505.6 L422.8,504.9 L423.7,508.0 L424.8,512.5 L426.0,512.9 L426.8,516.7 L427.7,525.6 L428.2,526.3 L428.9,525.3 L429.8,522.5 L430.6,522.9 L431.5,526.7 L432.4,528.4 L433.1,533.2 L433.9,531.2 L435.1,530.1 L435.8,526.3 L436.9,528.4 L437.8,536.7 L438.6,542.2 L439.6,543.6 L440.7,546.4 L441.7,548.4 L442.6,551.2 L443.4,545.7 L444.0,545.3 L446.0,544.0 L448.0,540.7 L449.3,543.3 L451.3,541.3 L453.3,542.7 L454.7,558.0 L456.7,569.3 L458.0,562.0 L459.3,566.0 L461.3,560.0 L463.3,560.0 L464.7,575.3 L466.0,572.7 L468.0,571.3 L470.0,580.0 L471.3,570.0 L473.3,564.0 L475.3,562.7 L476.7,560.7 L478.3,558.0 L480.0,560.0 L481.3,569.3 L483.1,572.0 L484.7,570.0 L486.7,548.0 L488.7,546.0 L490.7,546.0 L491.6,544.0 L492.9,527.3 L494.3,536.7 L495.6,532.0 L497.7,532.0 L499.6,542.0 L501.3,545.3 L502.9,554.0 L504.7,558.0 L506.0,569.3 L507.3,564.7 L508.3,572.7 L510.0,570.0 L511.6,572.7 L514.0,564.0 L515.3,567.3 L516.7,565.3 L518.0,570.0 L520.0,560.7 L522.0,557.3 L524.0,552.7 L526.0,554.0 L527.3,550.7 L529.7,547.3 L531.3,562.7 L533.3,572.0 L535.3,570.0 L537.3,565.3 L539.3,564.7 L541.3,570.0 L543.1,566.0 L544.7,560.7 L546.7,561.3 L548.0,566.7 L550.0,562.0 L552.7,563.3 L555.3,565.3 L557.3,562.7 L560.0,562.7 L562.0,570.7 L564.0,570.0 L565.3,563.3 L568.0,566.0 L570.0,566.0 L572.7,565.7 L576.7,566.0 L578.7,570.0 L581.3,568.7 L583.3,567.3 L586.0,565.3 L588.0,567.3 L590.7,568.7 L591.6,576.7 L592.7,584.7 L594.7,588.7 L595.7,587.3 L596.7,607.3 L598.0,616.7 L600.0,624.7 L600.7,641.3 L602.0,637.3 L602.9,645.3 L604.9,627.3 L606.0,632.0 L607.1,629.3 L608.7,637.3 L610.0,641.3 L612.0,660.0 L614.0,652.0 L615.3,658.7 L616.7,657.3 L618.7,667.3 L620.4,667.3 L622.0,648.0 L623.6,632.7 L624.9,640.0 L626.7,634.0 L628.0,644.0 L629.7,650.0 L630.7,641.3 L632.4,644.0 L633.3,646.7 L634.7,640.7 L636.0,642.0 L637.3,638.7 L639.1,634.7 L641.3,635.3 L642.4,648.0 L644.4,654.0 L645.7,649.3 L648.7,649.3 L650.0,647.3 L651.3,652.7 L654.0,652.0 L656.0,653.3 L658.3,658.0 L660.0,657.3 L662.0,656.0 L664.0,658.7 L666.0,660.7 L667.6,649.3 L670.0,649.3 L672.7,651.3 L674.7,650.0 L676.0,641.3 L678.0,636.7 L679.6,634.7 L680.7,631.3 L681.7,643.3 L684.0,641.3 L686.7,642.0 L688.7,645.3 L690.0,640.7 L692.7,638.7 L694.7,640.0 L696.7,640.0 L698.7,635.3 L702.0,634.0 L704.7,636.0 L707.1,638.0 L708.7,634.0 L712.0,632.7 L713.3,625.3 L714.0,608.0 L715.3,604.7 L716.7,603.3 L718.7,597.3 L720.4,595.3 L721.7,602.0 L723.3,600.7 L725.3,601.3 L726.7,597.3 L729.3,595.3 L731.3,593.3 L732.4,588.7 L734.0,598.0 L736.0,596.0 L738.0,596.7 L740.0,590.7 L741.3,585.3 L742.7,582.0 L744.7,580.7 L747.3,566.0 L748.7,551.3 L750.0,543.3 L751.7,531.3 L753.1,543.3 L754.0,548.7 L754.9,532.0 L756.7,535.3 L758.0,541.3 L759.3,534.0 L761.3,524.7 L762.7,521.3 L764.0,524.7 L765.1,529.3 L766.4,522.0 L767.3,522.7 L769.1,540.7 L770.7,538.0 L772.0,534.7 L773.6,540.7 L775.3,534.0 L777.3,528.7 L779.3,520.7 L781.1,514.0 L782.0,516.0 L783.3,511.3 L784.7,495.3 L786.0,490.0 L787.3,484.7 L788.3,464.0 L789.1,476.7 L789.7,470.0 L790.7,471.3 L791.7,484.7 L792.9,492.7 L794.9,476.7 L796.3,490.0 L798.0,486.0 L799.7,469.3 L801.1,476.7 L802.4,482.0 L803.3,485.3 L804.3,498.0 L805.3,490.0 L806.0,510.0 L807.3,496.7 L809.3,492.0 L810.7,496.7 L812.0,502.0 L813.3,504.7 L814.4,503.3 L815.7,510.0 L817.3,508.7 L819.3,499.3 L821.3,492.7 L823.3,481.3 L824.7,478.0 L826.0,476.0 L827.3,480.7 L828.7,482.0 L830.0,488.7 L831.7,501.3 L833.3,496.7 L834.7,499.3 L836.0,490.0 L837.3,496.7 L838.7,500.0 L840.0,497.3 L841.3,500.0 L842.7,498.0 L844.7,509.3 L846.7,507.3 L848.7,493.3 L851.3,495.3 L853.3,497.3 L855.3,500.7 L857.3,496.7 L860.0,498.0 L863.3,500.0 L866.0,502.0 L867.3,519.3 L868.7,531.3 L870.0,532.7 L872.0,530.0 L874.0,528.7 L875.7,532.0 L878.0,534.7 L879.3,527.3 L881.1,524.7 L883.0,528.7 L885.3,530.0 L887.3,533.3 L889.3,535.3 L891.3,531.3 L893.1,544.0 L894.4,532.7 L895.3,516.7 L896.3,509.3 L898.0,512.7 L899.3,514.0 L901.3,512.7 L903.3,511.3 L905.3,513.3 L907.3,520.7 L909.1,518.0 L910.7,522.0 L912.7,524.0 L914.7,526.0 L916.7,532.7 L918.7,543.3 L920.7,552.7 L922.7,546.0 L925.3,539.3 L927.3,546.0 L929.3,548.7 L932.7,543.3 L935.3,549.3 L938.7,551.3 L940.0,552.7 L940.9,563.3 L942.0,549.3 L943.3,550.7 L945.3,544.7 L946.7,548.0 L948.7,548.7 L950.7,546.7 L952.4,549.3 L954.0,551.3 L955.1,554.7 L956.7,546.7 L958.0,544.0 L959.6,532.0 L961.3,535.3 L962.7,533.3 L964.7,530.7 L966.0,520.0 L968.0,520.0 L969.3,518.7 L971.3,522.7 L973.3,525.3 L975.3,528.0 L976.7,522.7 L978.0,512.7 L980.0,510.0 L982.0,512.7 L984.0,514.7 L985.3,506.7 L987.3,504.0 L989.3,502.0 L991.1,498.0 L992.7,499.3 L993.7,502.0 L995.3,506.0 L996.9,500.7 L998.3,507.3 L999.3,509.3 L1000.9,504.0 L1002.7,511.3 L1004.0,518.7 L1006.0,524.0 L1008.0,521.3 L1009.7,520.7 L1011.1,516.7 L1012.4,522.7 L1013.3,536.0 L1015.1,537.3 L1016.0,560.0 L1016.7,593.0 L1017.1,608.0 L1018.7,592.0 L1020.0,602.7 L1021.3,597.3 L1022.7,573.3 L1024.0,572.0 L1024.9,581.3 L1026.0,568.0 L1027.3,561.3 L1029.3,564.0 L1031.3,578.7 L1032.7,568.0 L1034.7,561.0 L1036.0,558.7 L1038.0,557.3 L1040.0,548.0 L1041.3,550.7 L1042.7,557.3 L1044.4,554.7 L1046.0,562.0 L1047.3,552.0 L1049.1,550.0 L1050.7,557.3 L1052.4,549.3 L1053.3,544.0 L1055.3,541.3 L1057.3,538.0 L1058.3,522.7 L1060.0,520.0 L1062.0,518.0 L1063.3,517.3 L1064.7,509.3 L1066.0,502.7 L1067.1,506.7 L1068.0,514.0 L1068.7,522.7 L1070.0,517.3 L1071.6,506.7 L1072.9,511.3 L1074.7,506.7 L1076.0,506.7 L1077.7,512.0 L1079.3,514.7 L1080.7,518.7 L1082.0,521.3 L1083.3,514.7 L1084.7,510.0 L1086.0,508.0 L1087.3,500.0 L1088.7,504.0 L1090.7,508.0 L1092.7,506.0 L1094.7,504.0 L1096.0,512.7 L1098.0,510.7 L1100.0,510.7 L1102.0,510.0 L1104.0,512.7 L1105.3,507.3 L1107.3,510.7 L1109.3,514.0 L1111.3,516.0 L1113.3,514.7 L1116.0,516.0 L1118.7,512.7 L1120.0,512.0 L1122.0,513.3 L1124.7,513.3 L1127.3,514.7 L1129.3,515.3 L1131.3,512.0 L1132.7,509.3 L1134.7,507.3 L1136.0,502.7 L1136.9,489.3 L1138.7,487.3 L1140.0,484.0 L1140.9,478.7 L1142.0,485.3 L1143.3,484.0 L1144.7,478.7 L1146.0,480.0 L1148.0,479.3 L1149.3,482.7 L1151.3,479.3 L1153.3,476.0 L1155.3,473.3 L1156.7,476.0 L1158.7,478.7 L1160.0,479.7 L1161.0,479.1 L1161.6,482.3 L1162.6,483.3 L1163.6,484.3 L1164.2,482.3 L1165.5,481.7 L1167.2,479.1 L1167.9,476.5 L1168.5,479.1 L1169.4,481.7 L1169.8,498.6 L1170.7,496.0 L1171.7,499.9 L1173.0,498.3 L1174.0,499.9 L1175.0,498.6 L1176.3,496.7 L1177.6,496.4 L1178.8,497.0 L1179.5,493.4 L1181.2,488.5 L1182.5,488.9 L1184.0,487.6 L1184.8,489.5 L1185.7,495.4 L1186.7,495.4 L1187.5,499.0 L1188.3,492.1 L1189.6,492.1 L1191.3,491.8 L1192.9,490.5 L1193.9,492.1 L1195.2,494.1 L1196.5,494.4 L1197.8,491.8 L1199.1,493.4 L1200.1,492.1 L1201.7,486.9 L1203.0,483.6 L1204.2,481.4 L1205.6,482.3 L1206.9,482.7 L1208.1,484.3 L1209.2,482.3 L1210.2,479.1 L1211.1,476.8 L1211.8,468.0 L1212.4,464.8 L1213.7,464.1 L1214.2,463.3 L1215.8,463.3 L1217.2,457.7 L1218.2,461.0 L1219.7,457.2 L1221.1,455.9 L1222.8,457.7 L1223.9,451.2 L1225.0,438.2 L1226.0,437.7 L1227.2,443.8 L1228.4,440.1 L1230.0,435.4 L1231.5,430.8 L1233.0,432.6 L1234.1,433.6 L1234.9,424.3 L1236.0,418.7 L1237.4,416.9 L1238.8,411.3 L1240.2,412.7 L1242.0,408.0 L1243.0,413.1 L1244.2,423.8 L1245.1,419.6 L1246.2,411.3 L1247.0,403.4 L1248.1,406.6 L1249.2,408.5 L1250.4,405.7 L1251.0,410.4 L1252.0,406.2 L1253.2,406.6 L1253.8,412.7 L1255.3,413.1 L1256.6,415.0 L1257.8,410.4 L1259.2,405.7 L1260.6,396.4 L1261.5,385.3 L1262.4,380.8 L1263.7,375.4 L1265.4,380.8 L1266.9,375.9 L1267.9,374.9 L1269.1,367.0 L1269.8,360.1 L1271.3,359.1 L1272.8,354.2 L1273.8,347.3 L1275.6,344.3 L1276.3,333.4 L1277.0,328.0 L1278.2,331.5 L1279.2,316.7 L1280.5,299.9 L1281.5,296.9 L1282.7,302.8 L1283.9,314.7 L1284.9,323.1 L1285.8,312.7 L1286.8,302.8 L1287.8,311.7 L1288.8,313.7 L1290.6,314.7 L1292.1,317.6 L1292.7,328.5 L1293.7,328.0 L1294.5,331.5 L1296.0,330.5 L1297.3,329.5 L1298.0,338.9 L1299.0,326.0 L1300.3,321.6 L1301.6,326.5 L1302.9,318.6 L1303.9,309.7 L1305.2,309.2 L1306.4,304.8 L1307.6,302.3 L1308.2,278.6 L1309.1,277.1 L1310.0,282.2 L1310.9,273.5 L1312.0,274.2 L1313.1,274.9 L1313.9,270.6 L1315.0,272.0 L1316.1,261.1 L1317.0,261.1 L1317.9,250.8 L1319.0,249.4 L1319.9,246.5 L1320.8,256.7 L1321.5,269.8 L1322.4,268.4 L1323.1,273.5 L1323.9,277.1 L1325.2,278.2 L1325.9,281.2 L1326.6,267.6 L1327.5,267.3 L1328.5,264.7 L1329.2,269.8 L1330.2,270.2 L1331.4,269.5 L1332.5,263.3 L1333.6,257.4 L1334.5,250.8 L1335.6,245.7 L1336.5,244.6 L1337.2,237.0 L1338.0,238.4 L1338.7,246.5 L1339.4,250.1 L1340.2,247.2 L1341.1,243.5 L1342.0,244.6 L1343.1,243.5 L1344.0,244.6 L1344.9,253.0 L1346.0,253.4 L1346.7,256.0 L1347.8,261.4 L1348.6,253.8 L1349.7,249.7 L1350.7,247.9 L1351.8,242.8 L1352.9,241.7 L1354.8,241.3 L1355.5,245.0 L1355.9,245.2 L1357.4,242.8 L1358.4,243.8 L1359.4,249.2 L1360.4,244.2 L1361.9,240.8 L1363.4,239.3 L1364.3,238.3 L1364.8,231.4 L1366.3,231.9 L1367.3,234.4 L1368.3,237.8 L1369.0,249.2 L1370.0,250.2 L1371.0,249.7 L1371.7,254.6 L1372.7,260.5 L1373.9,265.0 L1375.2,269.4 L1376.2,255.6 L1377.5,252.6 L1378.2,253.1 L1378.9,256.6 L1379.8,245.7 L1381.1,246.7 L1382.1,248.7 L1383.1,257.1 L1383.8,247.2 L1385.1,247.7 L1386.6,242.8 L1387.7,245.2 L1388.7,250.2 L1389.3,248.7 L1390.0,266.5 L1391.3,267.4 L1392.0,267.4 L1393.0,276.3 L1394.0,278.3 L1394.9,288.2 L1395.9,297.6 L1396.2,309.9 L1397.2,297.6 L1397.6,309.9 L1398.9,308.4 L1399.9,319.3 L1400.9,304.0 L1402.3,302.0 L1403.3,304.0 L1403.5,307.9 L1405.1,320.4 L1406.8,309.7 L1408.0,310.3 L1409.5,302.6 L1411.0,316.2 L1412.2,316.2 L1413.7,325.1 L1414.9,309.7 L1416.3,309.7 L1417.3,316.2 L1418.7,297.3 L1419.9,298.5 L1421.1,305.6 L1422.3,306.8 L1423.4,316.2 L1424.4,316.2 L1425.2,333.4 L1426.8,326.9 L1427.9,320.4 L1429.0,333.4 L1430.5,320.4 L1432.3,315.6 L1434.1,324.5 L1436.5,318.0 L1437.7,322.7 L1439.1,323.3 L1440.0,328.1 L1441.2,323.9 L1443.0,322.7 L1444.2,328.1 L1445.7,329.3 L1446.9,334.0 L1448.9,333.4 L1450.7,342.3 L1451.6,331.6 L1452.8,329.3 L1454.8,319.2 L1456.6,302.0 L1457.8,299.1 L1459.6,291.9 L1460.8,296.1 L1462.9,306.2 L1464.3,297.3 L1465.9,284.8 L1466.7,283.1 L1467.9,277.7 L1469.1,280.7 L1470.8,283.1 L1471.8,273.6 L1473.2,275.4 L1475.6,283.1 L1477.9,268.8 L1480.1,268.2 L1481.3,273.6 L1482.7,275.4 L1483.9,270.0 L1485.6,270.0 L1487.2,275.4 L1489.2,268.2 L1491.0,265.9 L1492.7,259.4 L1493.6,276.5 L1495.1,278.3 L1496.7,282.5 L1498.1,278.9 L1499.3,281.9 L1500.5,273.0 L1502.2,272.4 L1503.8,273.6 L1505.0,289.0 L1505.8,296.7 L1507.6,282.5 L1509.0,289.0 L1510.5,289.6 L1512.3,295.5 L1513.5,291.9 L1514.9,273.0 L1516.8,271.2 L1518.2,264.1 L1519.2,251.7 L1520.6,255.2 L1522.4,252.8 L1523.6,246.9 L1524.7,248.1 L1526.3,245.7 L1527.1,236.8 L1528.9,235.7 L1530.1,232.1 L1531.3,226.2 L1532.7,237.4 L1534.2,236.8 L1535.8,232.7 L1537.2,242.8 L1539.0,234.5 L1541.9,236.8 L1543.1,232.7 L1545.0,236.8 L1546.2,236.3 L1547.1,231.6 L1547.9,222.1 L1548.9,223.3 L1550.1,228.6 L1551.8,229.2 L1553.3,227.4 L1554.2,229.8 L1555.4,238.7 L1556.2,239.3 L1557.2,247.0 L1558.4,240.5 L1559.5,243.4 L1560.4,248.8 L1561.3,245.8 L1562.5,242.8 L1563.1,245.8 L1564.1,255.3 L1565.1,251.7 L1566.3,245.8 L1567.8,246.4 L1569.4,249.4 L1570.2,255.3 L1570.8,269.5 L1572.2,267.1 L1573.2,264.8 L1574.4,266.0 L1575.5,274.2 L1576.7,268.3 L1577.9,266.5 L1578.9,276.0 L1580.3,270.1 L1582.1,277.2 L1583.8,276.0 L1584.8,275.4 L1586.0,269.5 L1587.4,264.8 L1588.6,263.6 L1590.7,264.8 L1592.1,276.6 L1593.3,275.4 L1594.5,277.2 L1595.7,274.2 L1597.5,278.4 L1598.6,286.1 L1599.8,289.1 L1600.7,293.2 L1602.8,292.6 L1604.6,285.5 L1605.8,289.1 L1607.3,287.3 L1608.7,289.1 L1609.9,290.8 L1611.1,293.2 L1612.3,297.9 L1612.9,313.3 L1613.7,318.1 L1614.6,313.3 L1616.4,311.0 L1618.2,309.8 L1620.0,306.8 L1621.8,305.0 L1622.7,303.9 L1623.5,311.0 L1624.4,309.8 L1625.3,293.8 L1626.3,293.2 L1627.7,285.5 L1629.5,284.3 L1630.6,288.5 L1631.8,290.8 L1633.6,290.8 L1635.0,283.1 L1636.2,287.3 L1636.9,297.9 L1638.3,299.1 L1639.5,309.8 L1640.5,306.2 L1641.7,308.6 L1642.8,305.0 L1644.0,302.7 L1645.2,308.0 L1646.4,284.9 L1647.2,284.3 L1648.4,289.1 L1649.6,301.5 L1650.8,302.7 L1652.3,306.2 L1654.0,292.0 L1655.5,302.7 L1656.7,303.3 L1657.9,307.4 L1659.1,300.9 L1660.3,295.6 L1662.0,293.2 L1663.2,292.0 L1664.6,295.0 L1665.8,290.2 L1667.4,285.5 L1668.9,283.1 L1669.7,276.0 L1671.5,274.2 L1673.3,279.6 L1675.1,277.8 L1676.8,276.6 L1678.0,281.4 L1678.9,287.3 L1679.8,287.9 L1681.0,290.8 L1682.2,291.4 L1683.1,300.3 L1684.0,299.1" fill="none" stroke="#7b7b7b" stroke-width="1.5" stroke-linejoin="round" style="mix-blend-mode:multiply"/>

<path d="M493.3,175.6 L1283.3,175.6 M1283.3,185.4 L1283.3,215.4" fill="none" stroke="#a6e38f" stroke-width="5" stroke-dasharray="10 10" stroke-linecap="round"/>
<text x="490" y="169" font-size="23.3" font-weight="bold" fill="#11813a" textLength="550" lengthAdjust="spacingAndGlyphs">NVT Signal élevé : utilisation importante du réseau</text>
<path d="M349.2,819.7 L349.2,850 M349.4,858.5 L999.4,858.5" fill="none" stroke="#ffb3b5" stroke-width="5" stroke-dasharray="10 10" stroke-linecap="round"/>
<text x="529.3" y="852" font-size="23.3" font-weight="bold" fill="#f75656" textLength="472.5" lengthAdjust="spacingAndGlyphs">NVT Signal bas : faible utilisation du réseau</text>
<circle cx="1239.2" cy="148.3" r="6.8" fill="#f7931a"/>
<text x="1251.3" y="154.8" font-size="17" fill="#333333" textLength="321" lengthAdjust="spacingAndGlyphs">Network Value to Transactions Signal</text>
<circle cx="1621.7" cy="148.3" r="6.8" fill="#7a7a7a"/>
<text x="1634.5" y="154.8" font-size="17" fill="#333333" textLength="96.5" lengthAdjust="spacingAndGlyphs">Price [USD]</text>
<text x="38.1" y="974.8" font-size="20.3" fill="#787878" textLength="378.5" lengthAdjust="spacingAndGlyphs">© 2022 Glassnode. All Rights Reserved.</text>
<g transform="translate(1570.1 967.6) scale(0.3256) translate(-606.2 -522.35)"><g fill="none" stroke="#0d0d0d" stroke-width="12.5">
<circle cx="639.9" cy="522.35" r="27.3"/>
<path d="M668,489 L668,548 A28,28 0 0 1 615.8,562"/>
<path d="M695.75,462 L695.75,556" stroke-width="12.7"/>
<circle cx="746.7" cy="522.35" r="27.3"/>
<path d="M775.45,489 L775.45,556"/>
<path d="M835.8,505.5 C832.5,498.5 825,495 816.5,495 C806,495 799,500 799,508 C799,517 808,519.5 817,522 C827,524.5 835.5,527.5 835.5,537 C835.5,545.5 827,550.5 817,550.5 C808,550.5 800.5,545.5 797.5,538.5"/>
<path d="M835.8,505.5 C832.5,498.5 825,495 816.5,495 C806,495 799,500 799,508 C799,517 808,519.5 817,522 C827,524.5 835.5,527.5 835.5,537 C835.5,545.5 827,550.5 817,550.5 C808,550.5 800.5,545.5 797.5,538.5" transform="translate(53.5 0)"/>
<path d="M912.4,489 L912.4,556"/>
<path d="M912.4,517.6 A22.8,22.8 0 0 1 958,517.6 L958,556"/>
<circle cx="1007.55" cy="522.35" r="27.3"/>
<circle cx="1082.85" cy="522.35" r="27.3"/>
<path d="M1111.75,466 L1111.75,556"/>
<path d="M1190.25,522.35 A27.3,27.3 0 1 0 1185.31,538.01"/>
<path d="M1135.65,522.95 L1196.50,522.95" stroke-width="11.5"/>
</g></g>
</svg>
</body></html>
